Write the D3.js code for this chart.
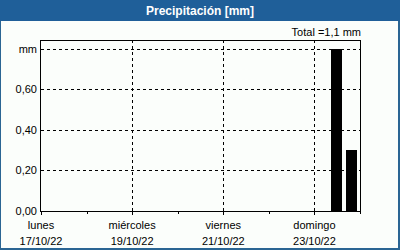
<!DOCTYPE html>
<html>
<head>
<meta charset="utf-8">
<script src="https://cdn.jsdelivr.net/npm/d3@7"></script>
<style>
  body { margin: 0; background: #fff; }
  text { font-family: "Liberation Sans", Arial, sans-serif; font-size: 11px; fill: #000; }
</style>
</head>
<body>
<script>
// data
var barTimes = ["2022-10-23T11:35", "2022-10-23T19:30"];
var barValues = [0.80, 0.30];
var dayLabels = ["lunes", "miércoles", "viernes", "domingo"];
var dateLabels = ["17/10/22", "19/10/22", "21/10/22", "23/10/22"];
var yTicks = [0, 0.2, 0.4, 0.6, 0.8];
var yTickLabels = ["0,00", "0,20", "0,40", "0,60", "mm"];
var total = "1,1";

var width = 400,
    height = 250,
    margin = {left: 41, right: 40, top: 40, bottom: 39};

var svg = d3.select("body").append("svg")
    .attr("width", width)
    .attr("height", height);

// frame + title bar
svg.append("rect").attr("x", 0).attr("y", 0).attr("width", width).attr("height", height).attr("fill", "#2a6593");
svg.append("rect").attr("x", 1).attr("y", 21).attr("width", width - 3).attr("height", height - 23).attr("fill", "#fbfefb");
svg.append("rect").attr("x", 0).attr("y", 0).attr("width", width).attr("height", 21).attr("fill", "#1f5f99");
svg.append("text")
    .attr("x", 200).attr("y", 15)
    .attr("text-anchor", "middle")
    .style("font-weight", "bold")
    .style("font-size", "12px")
    .style("fill", "#fff")
    .text("Precipitación [mm]");

var parse = d3.timeParse("%Y-%m-%dT%H:%M");
var x = d3.scaleTime()
    .domain([new Date(2022, 9, 17), new Date(2022, 9, 24)])
    .range([margin.left, width - margin.right]);
var y = d3.scaleLinear()
    .domain([0, 0.844])
    .range([height - margin.bottom, margin.top]);

var days = d3.timeDay.range(new Date(2022, 9, 17), new Date(2022, 9, 25));
var major = days.filter(function(d, i) { return i % 2 === 0 && i < 7; });

// dashed grid
var grid = svg.append("g").attr("stroke", "#000").attr("stroke-dasharray", "3,3").attr("shape-rendering", "crispEdges");
grid.selectAll(".hg").data(yTicks.slice(1)).enter().append("line")
    .attr("x1", x.range()[0]).attr("x2", x.range()[1])
    .attr("y1", function(d) { return Math.round(y(d)) + 0.5; })
    .attr("y2", function(d) { return Math.round(y(d)) + 0.5; });
grid.selectAll(".vg").data(major.slice(1)).enter().append("line")
    .attr("y1", y.range()[0]).attr("y2", y.range()[1])
    .attr("x1", function(d) { return Math.round(x(d)) + 0.5; })
    .attr("x2", function(d) { return Math.round(x(d)) + 0.5; });

// bars
var barW = x(new Date(2022, 9, 17, 6)) - x(new Date(2022, 9, 17));
svg.selectAll(".bar").data(barValues).enter().append("rect")
    .attr("x", function(d, i) { return Math.round(x(parse(barTimes[i])) - barW / 2); })
    .attr("width", Math.round(barW))
    .attr("y", function(d) { return Math.round(y(d)); })
    .attr("height", function(d) { return Math.round(y(0)) - Math.round(y(d)); })
    .attr("fill", "#000");

// plot border
svg.append("rect")
    .attr("x", x.range()[0] - 0.5).attr("y", y.range()[1] + 0.5)
    .attr("width", x.range()[1] - x.range()[0] + 1)
    .attr("height", y.range()[0] - y.range()[1])
    .attr("fill", "none").attr("stroke", "#000");

// x ticks
svg.append("g").selectAll("line").data(days).enter().append("line")
    .attr("stroke", "#000").attr("shape-rendering", "crispEdges")
    .attr("x1", function(d) { return Math.round(x(d)) + 0.5; })
    .attr("x2", function(d) { return Math.round(x(d)) + 0.5; })
    .attr("y1", y(0))
    .attr("y2", function(d, i) { return y(0) + (i % 2 === 0 ? 4 : 3); });

var xl = svg.append("g").selectAll("g").data(major).enter().append("g")
    .attr("transform", function(d) { return "translate(" + x(d) + ",0)"; });
xl.append("text").attr("y", 229).attr("text-anchor", "middle").text(function(d, i) { return dayLabels[i]; });
xl.append("text").attr("y", 245).attr("text-anchor", "middle").text(function(d, i) { return dateLabels[i]; });

// y labels
svg.append("g").selectAll("text").data(yTicks).enter().append("text")
    .attr("x", 37)
    .attr("y", function(d) { return y(d) + 4; })
    .attr("text-anchor", "end")
    .text(function(d, i) { return yTickLabels[i]; });

svg.append("text")
    .attr("x", 361).attr("y", 36)
    .attr("text-anchor", "end")
    .text("Total =" + total + " mm");
</script>
</body>
</html>
